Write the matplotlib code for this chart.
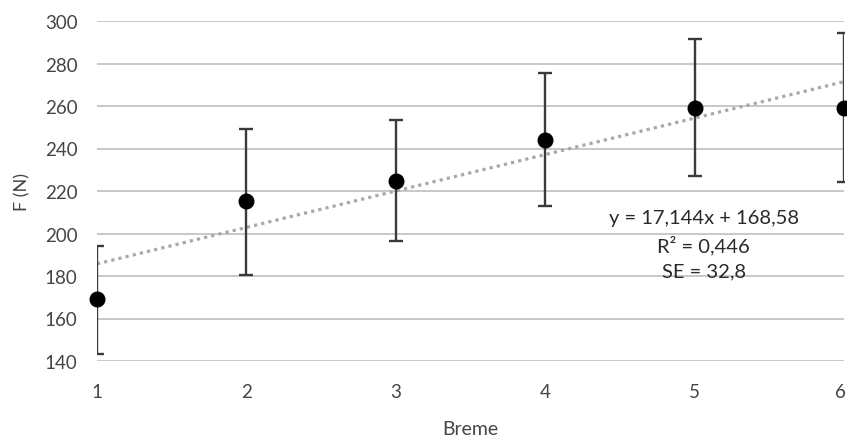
import matplotlib
matplotlib.use("Agg")
import matplotlib.pyplot as plt
import matplotlib.transforms as mtransforms
import numpy as np

# Mean force per group with lower/upper bounds of the error bars
groups = [1, 2, 3, 4, 5, 6]
force_mean = [169.2, 215.1, 224.9, 244.1, 259.1, 259.1]
force_low = [143.3, 180.4, 196.5, 213.0, 227.2, 224.2]
force_high = [194.3, 249.0, 253.4, 275.6, 291.5, 294.3]

# Linear trend line coefficients and fit statistics
slope = 17.144
intercept = 168.58
r_squared = 0.446
std_err = 32.8

y_ticks = [140, 160, 180, 200, 220, 240, 260, 280, 300]

plt.rcParams['font.family'] = ['Lato', 'DejaVu Sans']
text_color = '#454545'

fig = plt.figure(figsize=(8.47, 4.39), dpi=100)
ax = fig.add_axes([97 / 847, 1 - 362 / 439, (844 - 97) / 847, (362 - 22) / 439])

ax.set_xlim(1, 6)
ax.set_ylim(140, 300)
ax.set_yticks(y_ticks)
ax.set_xticks(groups)

ax.grid(axis='y', color='#c4c4c4', linewidth=1.3, zorder=0)
ax.grid(axis='x', visible=False)
for s in ax.spines.values():
    s.set_visible(False)
ax.tick_params(length=0, labelsize=13.5, labelcolor=text_color)
ax.tick_params(axis='x', pad=16)
ax.tick_params(axis='y', pad=14)

# keep the last x tick label inside the canvas
last = ax.get_xticklabels()[-1]
last.set_transform(last.get_transform() +
                   mtransforms.ScaledTranslation(-4 / 100, 0, fig.dpi_scale_trans))

x = np.array(groups, dtype=float)
mean = np.array(force_mean)
yerr = np.vstack([mean - np.array(force_low), np.array(force_high) - mean])

# trend line
xt = np.array([groups[0], groups[-1]], dtype=float)
ax.plot(xt, slope * xt + intercept, color='#a8a8a8', linewidth=2.3,
        linestyle=(0, (1, 1.3)), zorder=2)

ax.errorbar(x, mean, yerr=yerr, fmt='none', ecolor='#3a3a3a',
            elinewidth=1.7, capsize=4.8, capthick=1.7, zorder=3)
ax.plot(x, mean, 'o', color='black', markersize=10.5, zorder=4, clip_on=False)

ax.set_xlabel('Breme', fontsize=14, color=text_color, labelpad=14)
ax.set_ylabel('F (N)', fontsize=13, color=text_color, labelpad=10)

eq_x = 5.06
eq_color = '#2a2a2a'
eq_size = 14.5
ax.text(eq_x, 207.6, 'y = 17,144x + 168,58', ha='center', va='center',
        fontsize=eq_size, color=eq_color)
ax.text(eq_x, 194.9, 'R² = 0,446', ha='center', va='center',
        fontsize=eq_size, color=eq_color)
ax.text(eq_x, 182.6, 'SE = 32,8', ha='center', va='center',
        fontsize=eq_size, color=eq_color)

fig.savefig('out.png', dpi=100)
